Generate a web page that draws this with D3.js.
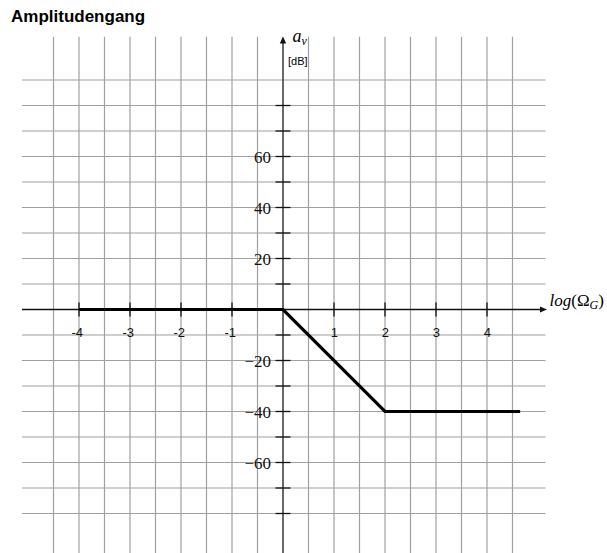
<!DOCTYPE html>
<html>
<head>
<meta charset="utf-8">
<script src="https://cdn.jsdelivr.net/npm/d3@7"></script>
<style>
  body { margin: 0; background: #fff; }
</style>
</head>
<body>
<div id="graph"></div>
<script>
// Bode plot (asymptotic magnitude) on a grid
const width = 607
const height = 553

// data
const curveX = [-4, 0, 2, 4.65]
const curveY = [0, 0, -40, -40]
const xTicks = [-4, -3, -2, -1, 1, 2, 3, 4]
const xTickLabels = ["-4", "-3", "-2", "-1", "1", "2", "3", "4"]
const yTicks = [-80, -70, -60, -50, -40, -30, -20, -10, 10, 20, 30, 40, 50, 60, 70, 80]
const yLabelValues = [60, 40, 20, -20, -40, -60]
const yLabels = ["60", "40", "20", "\u221220", "\u221240", "\u221260"]
const xGrid = d3.range(-4.5, 4.51, 0.5).filter(v => v !== 0)
const yGrid = d3.range(-80, 91, 10)

const x = d3.scaleLinear().domain([-4.5, 4.5]).range([53.5, 512.5])
const y = d3.scaleLinear().domain([90, -80]).range([80, 513.5])

const svg = d3.select("#graph").append("svg")
    .attr("width", width)
    .attr("height", height)

svg.append("text")
    .attr("x", 11)
    .attr("y", 21.7)
    .attr("font-family", "Liberation Sans, Arial, sans-serif")
    .attr("font-weight", "bold")
    .attr("font-size", 17)
    .text("Amplitudengang")

// grid
const grid = svg.append("g").attr("stroke", "#a0a0a0").attr("stroke-width", 1.2)
grid.selectAll("line.v")
    .data(xGrid)
    .join("line")
    .attr("class", "v")
    .attr("x1", d => x(d)).attr("x2", d => x(d))
    .attr("y1", 36.7).attr("y2", height)
grid.selectAll("line.h")
    .data(yGrid)
    .join("line")
    .attr("class", "h")
    .attr("x1", 22).attr("x2", 545.5)
    .attr("y1", d => y(d)).attr("y2", d => y(d))

// x axis
const x0 = x(0), y0 = y(0)
svg.append("line")
    .attr("x1", 22).attr("x2", 541)
    .attr("y1", y0).attr("y2", y0)
    .attr("stroke", "#111").attr("stroke-width", 1.3)
svg.append("path")
    .attr("d", `M${547},${y0} L${540},${y0 - 3} L${540},${y0 + 3} Z`)
    .attr("fill", "#111")
svg.append("g").selectAll("line")
    .data(xTicks)
    .join("line")
    .attr("x1", d => x(d)).attr("x2", d => x(d))
    .attr("y1", y0 - 7).attr("y2", y0 + 7)
    .attr("stroke", "#111").attr("stroke-width", 1.3)
svg.append("g").selectAll("text")
    .data(xTicks)
    .join("text")
    .attr("x", d => x(d) + 4)
    .attr("y", y0 + 27.5)
    .attr("text-anchor", "end")
    .attr("font-family", "Liberation Sans, Arial, sans-serif")
    .attr("font-size", 13)
    .attr("fill", "#111")
    .text((d, i) => xTickLabels[i])

// y axis
svg.append("line")
    .attr("x1", x0).attr("x2", x0)
    .attr("y1", 42).attr("y2", height)
    .attr("stroke", "#444").attr("stroke-width", 1.6)
svg.append("path")
    .attr("d", `M${x0},36.5 L${x0 - 3.2},43.5 L${x0 + 3.2},43.5 Z`)
    .attr("fill", "#111")
svg.append("g").selectAll("line")
    .data(yTicks)
    .join("line")
    .attr("x1", x0 - 7.5).attr("x2", x0 + 7.5)
    .attr("y1", d => y(d)).attr("y2", d => y(d))
    .attr("stroke", "#111").attr("stroke-width", 1.3)
svg.append("g").selectAll("text")
    .data(yLabelValues)
    .join("text")
    .attr("x", x0 - 12)
    .attr("y", d => y(d) + 6)
    .attr("text-anchor", "end")
    .attr("font-family", "Liberation Serif, Times New Roman, serif")
    .attr("font-size", 17)
    .attr("fill", "#111")
    .text((d, i) => yLabels[i])

// axis labels
const av = svg.append("text")
    .attr("x", 292.5)
    .attr("y", 41.7)
    .attr("font-family", "Liberation Serif, Times New Roman, serif")
    .attr("font-style", "italic")
    .attr("font-size", 18)
av.append("tspan").text("a")
av.append("tspan").attr("font-size", 12).attr("dy", 3).text("v")

svg.append("text")
    .attr("x", 288)
    .attr("y", 65)
    .attr("font-family", "Liberation Sans, Arial, sans-serif")
    .attr("font-size", 11)
    .text("[dB]")

const lg = svg.append("text")
    .attr("x", 549.5)
    .attr("y", 306)
    .attr("font-family", "Liberation Serif, Times New Roman, serif")
    .attr("font-size", 17)
lg.append("tspan").attr("font-style", "italic").text("log")
lg.append("tspan").text("(\u03A9")
lg.append("tspan").attr("font-style", "italic").attr("font-size", 12).attr("dy", 3).text("G")
lg.append("tspan").attr("dy", -3).text(")")

// curve
const line = d3.line()
    .x(d => x(d[0]))
    .y(d => y(d[1]))

svg.append("path")
    .datum(d3.zip(curveX, curveY))
    .attr("d", line)
    .attr("fill", "none")
    .attr("stroke", "#000")
    .attr("stroke-width", 3.2)
    .attr("stroke-linejoin", "miter")
</script>
</body>
</html>
